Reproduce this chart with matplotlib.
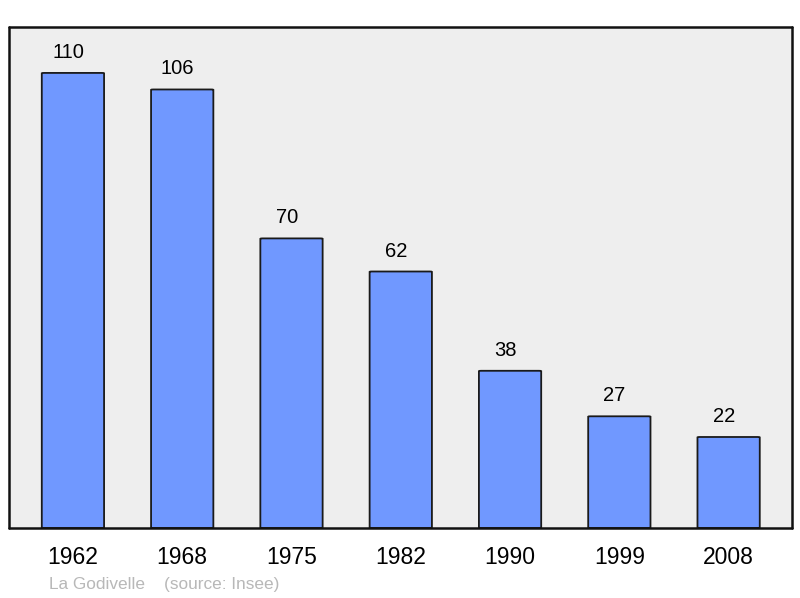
import matplotlib.pyplot as plt
from matplotlib.patches import FancyBboxPatch

# data
years = ['1962', '1968', '1975', '1982', '1990', '1999', '2008']
population = [110, 106, 70, 62, 38, 27, 22]

plt.rcParams['font.family'] = ['Liberation Sans', 'DejaVu Sans']

fig = plt.figure(figsize=(8, 5.98), dpi=100)
ax = fig.add_axes([9 / 800, 1 - 528 / 598, 783 / 800, 501 / 598])
ax.set_facecolor('#eeeeee')

width = 0.57
bars = ax.bar(range(len(years)), population, width=width, color='#7098ff',
              edgecolor='#1a1a1a', linewidth=1.3, zorder=2)

# give the bars slightly rounded corners
for b in bars:
    x, y = b.get_x(), b.get_y()
    w, h = b.get_width(), b.get_height()
    b.set_visible(False)
    p = FancyBboxPatch((x, y), w, h, boxstyle='round,pad=0,rounding_size=0.02',
                       mutation_aspect=4.5, facecolor='#7098ff',
                       edgecolor='#1a1a1a', linewidth=1.3, zorder=2)
    ax.add_patch(p)

for i, v in enumerate(population):
    ax.annotate(str(v), (i, v), xytext=(-3.5, 10.8), textcoords='offset points',
                ha='center', va='baseline', fontsize=14.5, color='black')

ax.set_xlim(-0.585, 6.58)
ax.set_ylim(0, 121.1)
ax.set_xticks(range(len(years)))
ax.set_xticklabels(years, fontsize=16.5)
ax.tick_params(axis='x', length=0, pad=13)
ax.set_yticks([])

for s in ax.spines.values():
    s.set_linewidth(1.8)
    s.set_color('#111111')
    s.set_capstyle('round')

fig.text(49 / 800, 1 - 584 / 598, 'La Godivelle    (source: Insee)',
         fontsize=12.4, color='#b8b8b8', va='center', ha='left')

fig.savefig('out.png', dpi=100, facecolor='white')
